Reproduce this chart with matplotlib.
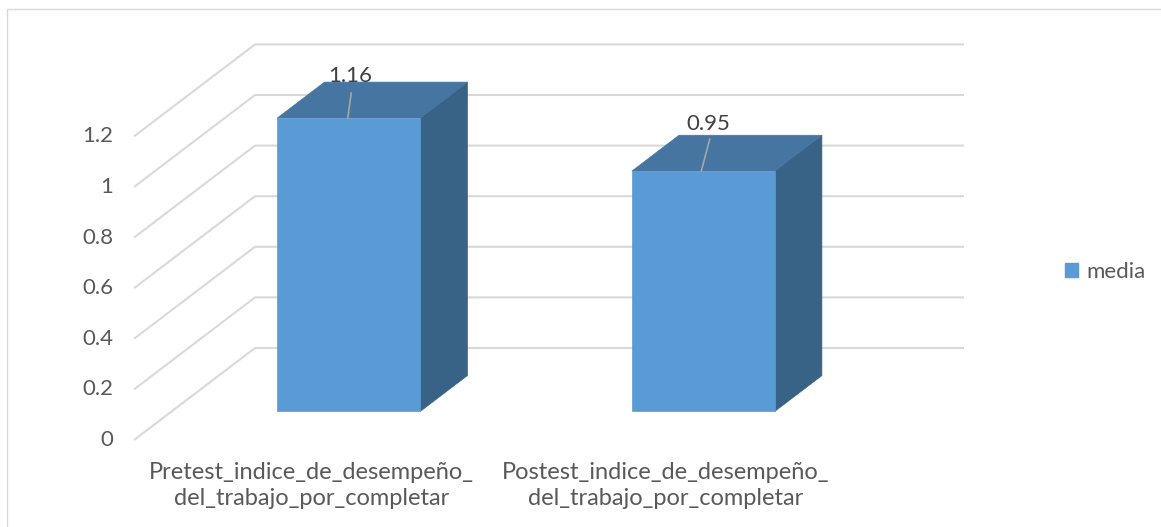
import matplotlib
matplotlib.use("Agg")
import matplotlib.pyplot as plt
from matplotlib.patches import Polygon, Rectangle, Patch

# ---- data ----
categories = [
    "Pretest_indice_de_desempeño_\ndel_trabajo_por_completar",
    "Postest_indice_de_desempeño_\ndel_trabajo_por_completar",
]
media = [1.16, 0.95]
value_labels = ["1.16", "0.95"]
y_ticks = [0, 0.2, 0.4, 0.6, 0.8, 1.0, 1.2]
y_tick_labels = ["0", "0.2", "0.4", "0.6", "0.8", "1", "1.2"]
series_name = "media"

# ---- style ----
plt.rcParams["font.family"] = ["Lato", "DejaVu Sans"]
FRONT = "#5B9BD5"
TOP = "#4575A0"
SIDE = "#386386"
GRID = "#D9D9D9"
TEXT = "#595959"
LABEL = "#404040"
FS = 16
FS_CAT = 17

W, H, DPI = 1161, 527, 100
fig = plt.figure(figsize=(W / DPI, H / DPI), dpi=DPI)
ax = fig.add_axes([0, 0, 1, 1])

# axis scaling: one category = CAT_PX pixels, one value unit = UNIT_PX pixels
X0_PX, CAT_PX = 134, 354.5
Y0_PX, UNIT_PX = 440, 253
ax.set_xlim(-X0_PX / CAT_PX, (W - X0_PX) / CAT_PX)
ax.set_ylim(-(H - Y0_PX) / UNIT_PX, Y0_PX / UNIT_PX)
ax.axis("off")

# oblique depth projection (f = 0 front plane, f = 1 back wall)
DEPTH_X = 121 / CAT_PX
DEPTH_Y = 92 / UNIT_PX


def proj(x, v, f):
    return (x + DEPTH_X * f, v + DEPTH_Y * f)


def px(dx, dy):
    """pixel offsets -> data offsets"""
    return dx / CAT_PX, dy / UNIT_PX


n = len(categories)

# side wall and back wall gridlines
for v, lab in zip(y_ticks, y_tick_labels):
    pts = [proj(0, v, 0), proj(0, v, 1), proj(n, v, 1)]
    ax.plot([p[0] for p in pts], [p[1] for p in pts], color=GRID, lw=1.5,
            zorder=1, solid_capstyle="butt")
    ox, _ = px(-21, 0)
    ax.text(proj(0, v, 0)[0] + ox, v, lab, ha="right", va="center",
            fontsize=FS, color=TEXT)

# 3D columns
BAR_W = 0.403
F0, F1 = 0.31, 0.70
for i, val in enumerate(media):
    xl = i + 0.5 - BAR_W / 2
    xr = xl + BAR_W
    side = [proj(xr, 0, F0), proj(xr, 0, F1), proj(xr, val, F1), proj(xr, val, F0)]
    top = [proj(xl, val, F0), proj(xr, val, F0), proj(xr, val, F1), proj(xl, val, F1)]
    front = [proj(xl, 0, F0), proj(xr, 0, F0), proj(xr, val, F0), proj(xl, val, F0)]
    for poly, col in ((side, SIDE), (top, TOP), (front, FRONT)):
        ax.add_patch(Polygon(poly, closed=True, facecolor=col, edgecolor=col,
                             lw=0.5, zorder=3))

# value labels with leader lines (pixel offsets from the front-top centre)
leader_offsets = [((-1, 0), (2.5, 25)), ((-2, 0), (6.5, 32))]
text_offsets = [(1.5, 36.5), (5.5, 41)]
for i, (val, lab) in enumerate(zip(media, value_labels)):
    ax0, ay0 = proj(i + 0.5, val, F0)
    (a, b), (c, d) = leader_offsets[i]
    p1 = px(a, b)
    p2 = px(c, d)
    ax.plot([ax0 + p1[0], ax0 + p2[0]], [ay0 + p1[1], ay0 + p2[1]],
            color="#A6A6A6", lw=1.2, zorder=4)
    tx, ty = px(*text_offsets[i])
    ax.text(ax0 + tx, ay0 + ty, lab, ha="center", va="baseline",
            fontsize=FS, color=LABEL, zorder=5)

# category labels
_, ly = px(0, -45.5)
for i, cat in enumerate(categories):
    ax.text(proj(i + 0.5, 0, 0)[0], ly, cat, ha="center", va="center",
            fontsize=FS_CAT, color=TEXT, linespacing=1.3)

# legend
handle = Patch(facecolor=FRONT, edgecolor=FRONT, label=series_name)
fig.legend(handles=[handle], loc="center left",
           bbox_to_anchor=(1065 / W, 1 - 272 / H), frameon=False,
           fontsize=FS, handlelength=0.6, handleheight=0.55,
           handletextpad=0.35, borderpad=0, borderaxespad=0,
           labelcolor=TEXT)

# chart area border
fig.patches.append(Rectangle((7 / W, -0.05), (W + 20) / W, (H - 9) / H + 0.05,
                             transform=fig.transFigure, fill=False,
                             edgecolor=GRID, lw=1.0))

fig.savefig("out.png", dpi=DPI, facecolor="white")
